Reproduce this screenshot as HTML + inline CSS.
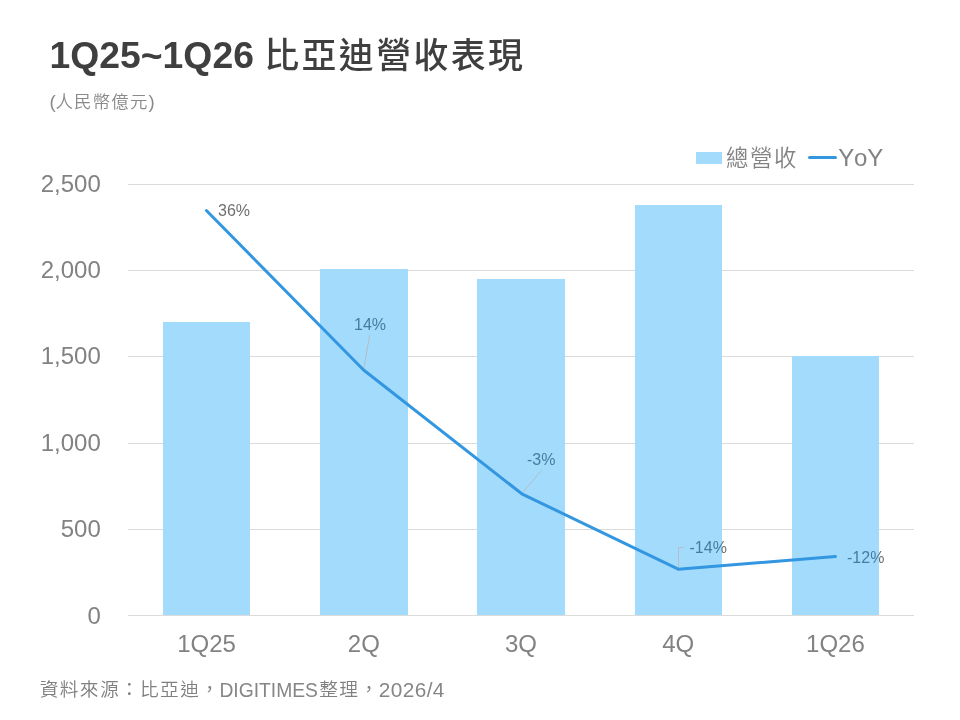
<!DOCTYPE html>
<html lang="zh-Hant">
<head>
<meta charset="utf-8">
<title>1Q25~1Q26 比亞迪營收表現</title>
<style>
html,body{margin:0;padding:0;background:#fff;}
body{width:960px;height:720px;overflow:hidden;position:relative;}
svg{position:absolute;left:0;top:0;display:block;}
text{font-family:"Liberation Sans","Noto Sans CJK TC",sans-serif;}
.title{font-size:37.33px;font-weight:bold;fill:#3f3f3f;}
.title .cjk{font-weight:500;font-size:34.9px;letter-spacing:2.43px;}
.sub{font-size:18.67px;fill:#8a8a8a;}
.ax{font-size:24px;fill:#828282;}
.dl{font-size:16px;fill:#707070;}
.src{font-size:20px;fill:#808080;font-weight:350;}
.lt{font-weight:350;}
.src .cj{font-size:18.7px;letter-spacing:1.38px;}
.src .la{font-size:20.8px;fill:#868686;}
</style>
</head>
<body>
<svg width="960" height="720" viewBox="0 0 960 720">
  <rect width="960" height="720" fill="#ffffff"/>
  <!-- gridlines -->
  <g fill="#dbdbdb" shape-rendering="crispEdges">
    <rect x="128" y="184" width="786" height="1"/>
    <rect x="128" y="270" width="786" height="1"/>
    <rect x="128" y="356" width="786" height="1"/>
    <rect x="128" y="443" width="786" height="1"/>
    <rect x="128" y="529" width="786" height="1"/>
    <rect x="128" y="615" width="786" height="1"/>
  </g>
  <!-- bars -->
  <g fill="#a3dbfc" shape-rendering="crispEdges">
    <rect x="163" y="322" width="87" height="293"/>
    <rect x="320" y="269" width="88" height="346"/>
    <rect x="477" y="279" width="88" height="336"/>
    <rect x="635" y="205" width="87" height="410"/>
    <rect x="792" y="356" width="87" height="259"/>
  </g>
  <!-- leader lines -->
  <g stroke="#b4bec6" stroke-width="1" fill="none">
    <path d="M369.7 335 L363.5 369.5"/>
    <path d="M541.5 470.4 L522.8 492.5"/>
    <path d="M678.5 569 L678.5 547.5 L684.5 547.5"/>
  </g>
  <!-- YoY line -->
  <polyline points="206.4,210.5 363.6,370 521.8,493.8 678.2,569.2 835.4,556.6" fill="none" stroke="#3296e0" stroke-width="3" stroke-linejoin="round" stroke-linecap="round"/>
  <!-- legend -->
  <rect x="696" y="152" width="26" height="12" fill="#a3dbfc"/>
  <line x1="809.5" y1="157.5" x2="835.5" y2="157.5" stroke="#3296e0" stroke-width="3" stroke-linecap="round"/>
  <text class="ax lt" x="726" y="165.9" style="font-size:22.4px;letter-spacing:1.6px">總營收</text>
  <text class="ax" x="838.3" y="166.2" style="font-kerning:none;letter-spacing:-0.2px">YoY</text>
  <!-- title -->
  <text class="title" x="49.5" y="68">1Q25~1Q26 <tspan class="cjk" x="264.2">比亞迪營收表現</tspan></text>
  <text class="sub lt" x="49.5" y="108">(<tspan style="font-size:17.4px;letter-spacing:1.2px" dx="-0.2">人民幣億元</tspan>)</text>
  <!-- y axis -->
  <g class="ax" text-anchor="end">
    <text x="100.8" y="192">2,500</text>
    <text x="100.8" y="277.8">2,000</text>
    <text x="100.8" y="364.3">1,500</text>
    <text x="100.8" y="450.5">1,000</text>
    <text x="100.8" y="537">500</text>
    <text x="100.8" y="624">0</text>
  </g>
  <!-- x axis -->
  <g class="ax" text-anchor="middle">
    <text x="206.6" y="651.5">1Q25</text>
    <text x="363.8" y="651.5">2Q</text>
    <text x="521" y="651.5">3Q</text>
    <text x="678.2" y="651.5">4Q</text>
    <text x="835.4" y="651.5">1Q26</text>
  </g>
  <!-- data labels -->
  <g class="dl" style="mix-blend-mode:luminosity">
    <text x="218" y="216">36%</text>
    <text x="354" y="330">14%</text>
    <text x="527" y="465">-3%</text>
    <text x="689.5" y="553">-14%</text>
    <text x="847" y="563">-12%</text>
  </g>
  <!-- source -->
  <text class="src" x="40" y="697"><tspan class="cj" x="39.7" y="696.4">資料來源：比亞迪，</tspan><tspan class="la" x="219.4" y="697" textLength="98.6" lengthAdjust="spacingAndGlyphs">DIGITIMES</tspan><tspan class="cj" x="319.3" y="696.4">整理，</tspan><tspan class="la" x="378.8" y="697" letter-spacing="0.4">2026/4</tspan></text>
</svg>
</body>
</html>
